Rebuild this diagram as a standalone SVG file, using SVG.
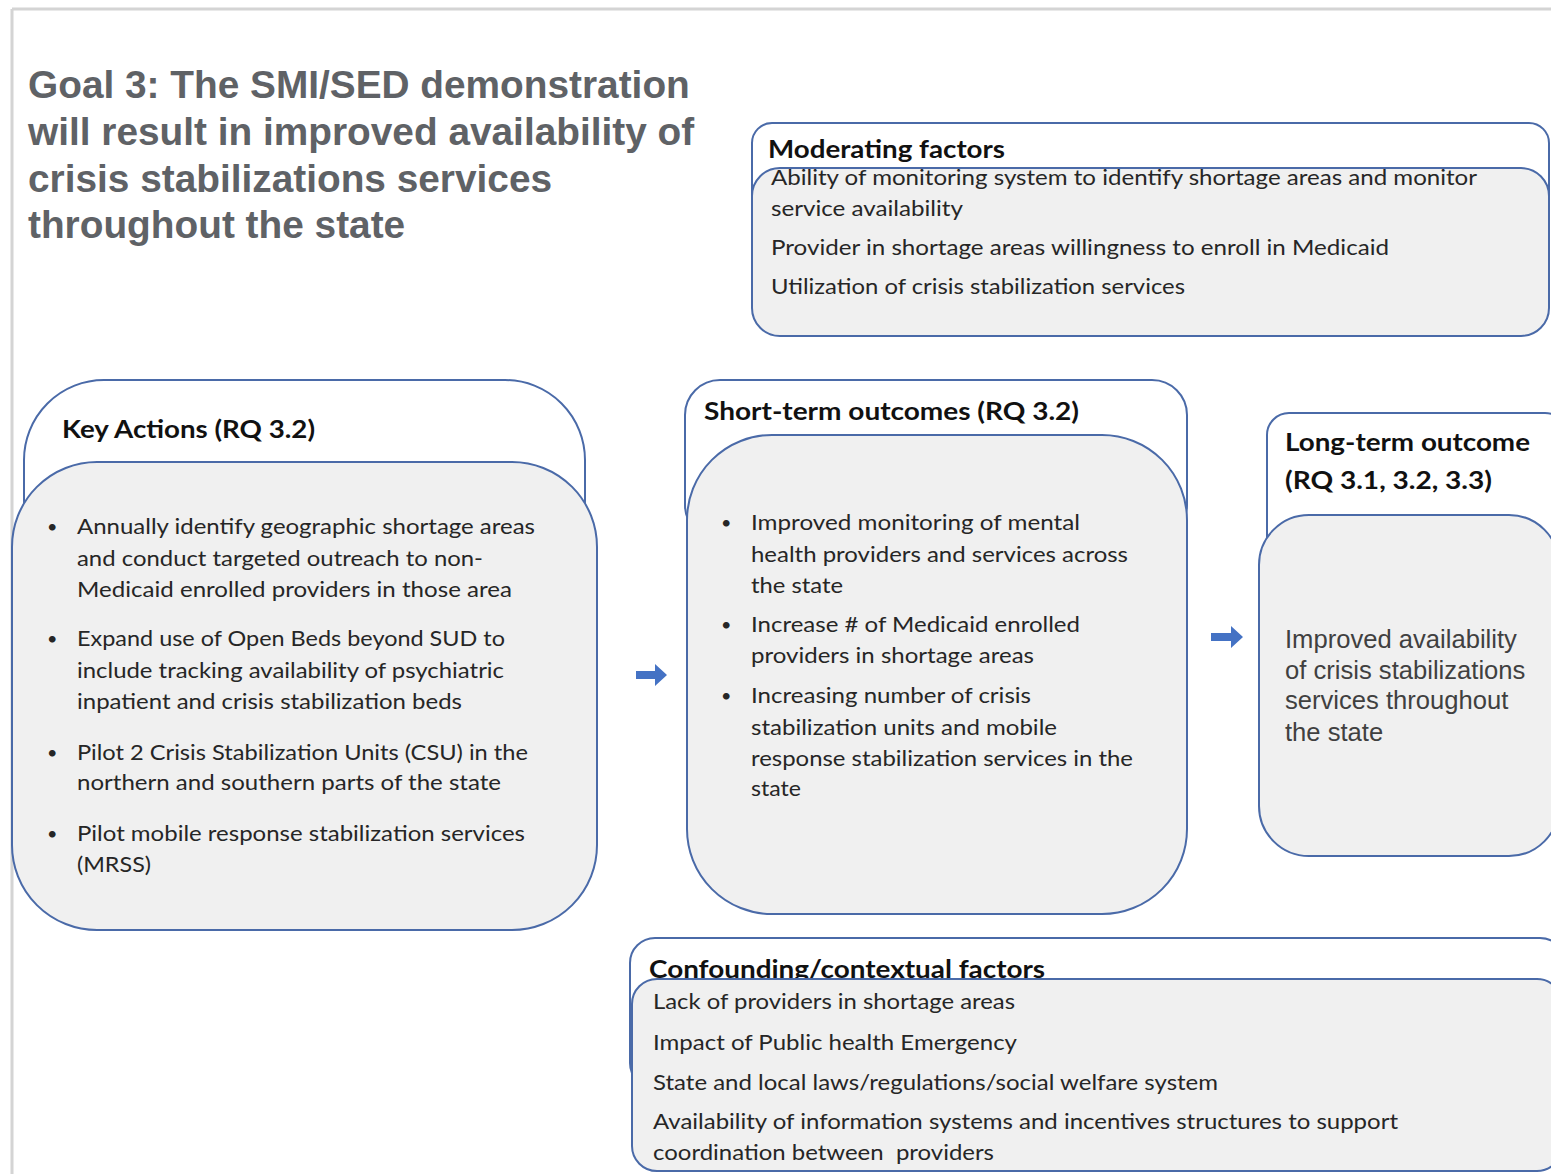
<svg xmlns="http://www.w3.org/2000/svg" width="1551" height="1174" viewBox="0 0 1551 1174">
<style>
.outer{fill:#ffffff;stroke:#4a6aa8;stroke-width:2}
.inner{fill:#f0f0f0;stroke:#4a6aa8;stroke-width:2}
.hd{font-family:Lato,"Liberation Sans",sans-serif;font-weight:bold;font-size:24px;fill:#111111}
.tx{font-family:Lato,"Liberation Sans",sans-serif;font-size:22px;fill:#262626}
.bu{font-family:Lato,"Liberation Sans",sans-serif;font-size:18px;fill:#262626}
.ar{font-family:"Liberation Sans",Arial,sans-serif;font-size:25.6px;fill:#404040}
.title{font-family:"Liberation Sans",Arial,sans-serif;font-weight:bold;font-size:38.8px;fill:#5f6266}
.arrow{fill:#4472c4}
</style>
<rect width="1551" height="1174" fill="#ffffff"/>
<g id="frame">
<line x1="12" y1="9" x2="1551" y2="9" stroke="#d4d4d4" stroke-width="3"/>
<line x1="12" y1="9" x2="12" y2="1174" stroke="#d4d4d4" stroke-width="3"/>
</g>
<g id="title">
<text class="title" x="28" y="98">Goal 3: The SMI/SED demonstration</text>
<text class="title" x="28" y="145">will result in improved availability of</text>
<text class="title" x="28" y="192">crisis stabilizations services</text>
<text class="title" x="28" y="238">throughout the state</text>
</g>
<g id="moderating">
<rect class="outer" x="752" y="123" width="797" height="150" rx="20"/>
<text class="hd" x="768" y="158" textLength="237" lengthAdjust="spacingAndGlyphs">Moderating factors</text>
<rect class="inner" x="752" y="168" width="797" height="168" rx="28"/>
<text class="tx" x="771" y="185" textLength="706" lengthAdjust="spacingAndGlyphs">Ability of monitoring system to identify shortage areas and monitor</text>
<text class="tx" x="771" y="216" textLength="192" lengthAdjust="spacingAndGlyphs">service availability</text>
<text class="tx" x="771" y="255" textLength="618" lengthAdjust="spacingAndGlyphs">Provider in shortage areas willingness to enroll in Medicaid</text>
<text class="tx" x="771" y="294" textLength="414" lengthAdjust="spacingAndGlyphs">Utilization of crisis stabilization services</text>
</g>
<g id="key-actions">
<rect class="outer" x="24" y="380" width="561" height="200" rx="80"/>
<text class="hd" x="62" y="438" textLength="253" lengthAdjust="spacingAndGlyphs">Key Actions (RQ 3.2)</text>
<rect class="inner" x="12" y="462" width="585" height="468" rx="85"/>
<g class="bu">
<text x="47" y="533">•</text>
<text x="47" y="645">•</text>
<text x="47" y="759">•</text>
<text x="47" y="840">•</text>
</g>
<g class="tx">
<text x="77" y="534" textLength="458" lengthAdjust="spacingAndGlyphs">Annually identify geographic shortage areas</text>
<text x="77" y="566" textLength="406" lengthAdjust="spacingAndGlyphs">and conduct targeted outreach to non-</text>
<text x="77" y="597" textLength="435" lengthAdjust="spacingAndGlyphs">Medicaid enrolled providers in those area</text>
<text x="77" y="646" textLength="428" lengthAdjust="spacingAndGlyphs">Expand use of Open Beds beyond SUD to</text>
<text x="77" y="678" textLength="427" lengthAdjust="spacingAndGlyphs">include tracking availability of psychiatric</text>
<text x="77" y="709" textLength="385" lengthAdjust="spacingAndGlyphs">inpatient and crisis stabilization beds</text>
<text x="77" y="760" textLength="451" lengthAdjust="spacingAndGlyphs">Pilot 2 Crisis Stabilization Units (CSU) in the</text>
<text x="77" y="790" textLength="424" lengthAdjust="spacingAndGlyphs">northern and southern parts of the state</text>
<text x="77" y="841" textLength="448" lengthAdjust="spacingAndGlyphs">Pilot mobile response stabilization services</text>
<text x="77" y="872" textLength="74" lengthAdjust="spacingAndGlyphs">(MRSS)</text>
</g>
</g>
<g id="short-term">
<rect class="outer" x="685" y="380" width="502" height="160" rx="35"/>
<text class="hd" x="704" y="420" textLength="375" lengthAdjust="spacingAndGlyphs">Short-term outcomes (RQ 3.2)</text>
<rect class="inner" x="687" y="435" width="500" height="479" rx="85"/>
<g class="bu">
<text x="721" y="529">•</text>
<text x="721" y="631">•</text>
<text x="721" y="702">•</text>
</g>
<g class="tx">
<text x="751" y="530" textLength="329" lengthAdjust="spacingAndGlyphs">Improved monitoring of mental</text>
<text x="751" y="562" textLength="377" lengthAdjust="spacingAndGlyphs">health providers and services across</text>
<text x="751" y="593" textLength="92" lengthAdjust="spacingAndGlyphs">the state</text>
<text x="751" y="632" textLength="329" lengthAdjust="spacingAndGlyphs">Increase # of Medicaid enrolled</text>
<text x="751" y="663" textLength="283" lengthAdjust="spacingAndGlyphs">providers in shortage areas</text>
<text x="751" y="703" textLength="280" lengthAdjust="spacingAndGlyphs">Increasing number of crisis</text>
<text x="751" y="735" textLength="306" lengthAdjust="spacingAndGlyphs">stabilization units and mobile</text>
<text x="751" y="766" textLength="382" lengthAdjust="spacingAndGlyphs">response stabilization services in the</text>
<text x="751" y="796" textLength="50" lengthAdjust="spacingAndGlyphs">state</text>
</g>
</g>
<g id="long-term">
<rect class="outer" x="1267" y="413" width="300" height="150" rx="22"/>
<text class="hd" x="1285" y="451" textLength="245" lengthAdjust="spacingAndGlyphs">Long-term outcome</text>
<text class="hd" x="1285" y="489" textLength="207" lengthAdjust="spacingAndGlyphs">(RQ 3.1, 3.2, 3.3)</text>
<rect class="inner" x="1259" y="515" width="300" height="341" rx="50"/>
<text class="ar" x="1285" y="648">Improved availability</text>
<text class="ar" x="1285" y="679">of crisis stabilizations</text>
<text class="ar" x="1285" y="709">services throughout</text>
<text class="ar" x="1285" y="741">the state</text>
</g>
<g id="confounding">
<rect class="outer" x="630" y="938" width="935" height="150" rx="25"/>
<text class="hd" x="649" y="978" textLength="396" lengthAdjust="spacingAndGlyphs">Confounding/contextual factors</text>
<rect class="inner" x="632" y="979" width="930" height="192" rx="25"/>
<g class="tx">
<text x="653" y="1009" textLength="362" lengthAdjust="spacingAndGlyphs">Lack of providers in shortage areas</text>
<text x="653" y="1050" textLength="364" lengthAdjust="spacingAndGlyphs">Impact of Public health Emergency</text>
<text x="653" y="1090" textLength="565" lengthAdjust="spacingAndGlyphs">State and local laws/regulations/social welfare system</text>
<text x="653" y="1129" textLength="745" lengthAdjust="spacingAndGlyphs">Availability of information systems and incentives structures to support</text>
<text x="653" y="1160" textLength="341" lengthAdjust="spacingAndGlyphs" xml:space="preserve">coordination between  providers</text>
</g>
</g>
<g id="connectors">
<polygon class="arrow" points="636,671 655,671 655,664 667,675 655,686 655,679 636,679"/>
<polygon class="arrow" points="1211,633 1231,633 1231,626 1243,637 1231,648 1231,641 1211,641"/>
</g>
</svg>
